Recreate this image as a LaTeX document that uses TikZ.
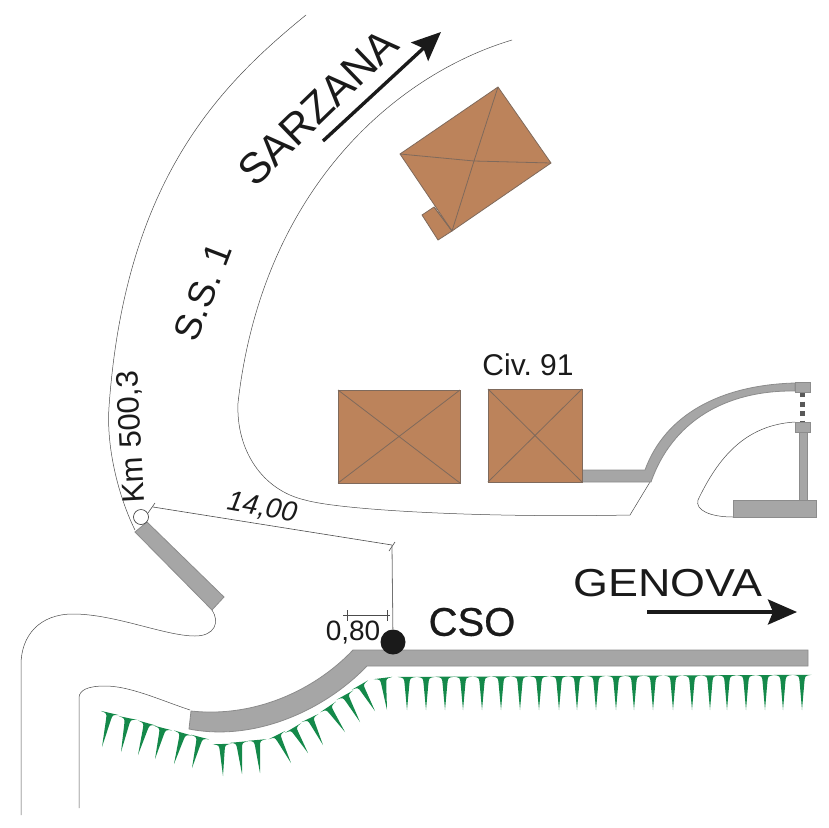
\documentclass[tikz,border=0pt]{standalone}
\usepackage{fontspec}
\setmainfont{Liberation Sans}
\newfontfamily\heavyfont[FakeBold=0.6]{Liberation Sans}
\usetikzlibrary{arrows.meta,calc}
\definecolor{roof}{HTML}{BC835B}
\definecolor{roofedge}{HTML}{7F6A5C}
\definecolor{wall}{HTML}{A6A6A6}
\definecolor{walledge}{HTML}{8C8C8C}
\definecolor{hedge}{HTML}{14894A}
\definecolor{ink}{HTML}{1A1A1A}
\tikzset{
	road/.style={draw=black!70,line width=.5pt},
	wallpart/.style={fill=wall,draw=walledge,line width=.8pt},
	house/.style={fill=roof,draw=roofedge,line width=.8pt},
	ridge/.style={draw=roofedge,line width=.8pt},
	dim/.style={draw=black!70,line width=.6pt},
	txt/.style={text=ink,inner sep=0pt,font=\fontsize{#1}{#1}\selectfont},
	bigarrow/.style={draw=ink,line width=3.4pt,-{Stealth[length=29pt,width=25pt,inset=5pt]}}
}
\newcommand{\spike}[4]{%
	\coordinate (s_a) at (#1,#2);
	\coordinate (s_b) at (#3,#4);
	\coordinate (s_c) at ($(s_a)!1pt!(s_b)$);
	\coordinate (s_d) at ($(s_a)!7pt!(s_b)$);
	\fill[hedge] ($(s_a)!9.5pt!90:(s_b)$) -- ($(s_a)!9.5pt!-90:(s_b)$)
	.. controls ($(s_c)!3pt!-90:(s_b)$) .. ($(s_d)!2.4pt!-90:(s_b)$) -- (s_b)
	-- ($(s_d)!2.4pt!90:(s_b)$)
	.. controls ($(s_c)!3pt!90:(s_b)$) .. cycle;}
\begin{document}
\frenchspacing
\begin{tikzpicture}[x=1pt,y=-1pt]
	\useasboundingbox (0,0) rectangle (828,828);
	% roads
	\draw[road] (306,15) .. controls (220,85) and (125,180) .. (109,407) .. controls (106,450) and (120,500) .. (135,530);
	\draw[road] (512,40) .. controls (395,75) and (262,190) .. (238,403) .. controls (236,450) and (262,490) .. (305,500) .. controls (340,510) and (480,518) .. (630,515) -- (650,482);
	\draw[road] (212,610) .. controls (220,622) and (215,636) .. (195,636) .. controls (165,636) and (115,614) .. (73,614) .. controls (40,614) and (21,635) .. (21,665) -- (21,815);
	\draw[road] (190,710) .. controls (160,700) and (130,686) .. (105,686) .. controls (88,686) and (79,690) .. (79,698) -- (79,808);
	\draw[road] (795,422) .. controls (745,425) and (718,458) .. (698,500) .. controls (695,510) and (710,517) .. (733,517);
	% walls
	\draw[wallpart] (135,532) -- (147,522) -- (224,597) -- (212,610) -- cycle;
	\draw[wallpart] (191,711) .. controls (255,718) and (315,690) .. (353,650) -- (808,650) -- (808,666) -- (367,666) .. controls (325,710) and (255,742) .. (189,729) -- cycle;
	\draw[wallpart] (582,470) -- (645,470) .. controls (665,415) and (720,385) .. (795,383) -- (795,391) .. controls (725,390) and (672,422) .. (651,482) -- (582,482) -- cycle;
	\draw[draw=black!65,line width=5pt,dash pattern=on 5pt off 4.5pt] (802.5,392) -- (802.5,422);
	\draw[wallpart] (799,432) rectangle (807,500);
	\draw[wallpart] (733,500) rectangle (816,517);
	\draw[wallpart] (795,382) rectangle (810,392);
	\draw[wallpart] (795,422) rectangle (810,432);
	% houses
	\draw[house] (338,390) rectangle (460,483);
	\draw[ridge] (338,390) -- (460,483) (338,483) -- (460,390);
	\draw[house] (488,389) rectangle (582,482);
	\draw[ridge] (488,389) -- (582,482) (488,482) -- (582,389);
	\draw[house] (434,207) -- (422,215) -- (438,240) -- (452,231) -- cycle;
	\draw[house] (400,154) -- (498,87) -- (551,163) -- (452,231) -- cycle;
	\draw[ridge] (400,154) -- (474,161) -- (551,163) (498,87) -- (474,161) -- (452,231) (434,207) -- (452,231);
	% hedge
	\foreach \ax/\ay/\bx/\by in {110/713/102/747,128/718/121/752,147/723/138/755,163/728/155/759,183/733/174/764,200/737/192/768,222/744/223/776,239/742/242/774,257/740/260/773,277/735/291/763,293/728/308/753,310/718/323/745,328/707/345/732,345/695/360/722,360/685/375/711,383/678/387/710}
	{\spike{\ax}{\ay}{\bx}{\by}}
	\foreach \ax [count=\i] in {407,426,445,463,482,501,520,539,559,577,596,616,634,653,673,692,710,727,746,765,783,802}
	{\spike{\ax}{677-\i*0.1}{\ax}{710}}
	% dimensions
	\node[circle,draw=black!80,fill=white,line width=.6pt,minimum size=15pt,inner sep=0pt] (km) at (141,517) {};
	\node[circle,fill=ink,minimum size=25pt,inner sep=0pt] (cso) at (393,642) {};
	\coordinate (dim_a) at (153,507);
	\coordinate (dim_b) at (392,545);
	\draw[dim] (dim_a) -- (dim_b);
	\draw[dim] (155,503) -- (148,513) (395,542) -- (389,551);
	\draw[draw=black!55,line width=.8pt] (dim_b) -- (cso);
	\draw[dim] (343,615) -- (390,615) (347,610) -- (347,621) (387,610) -- (387,621);
	% labels
	\node[txt=31,rotate=93] (km_txt) at (132,437) {Km 500,3};
	\node[txt=28,rotate=-10] (width_txt) at (262,508) {\itshape 14,00};
	\node[txt=28] (offset_txt) at (353,633) {0,80};
	\node[txt=40] (cso_txt) at (472,622) {\heavyfont CSO};
	\node[txt=30] (civ_txt) at (528,365) {Civ. 91};
	\node[txt=37,rotate=69] (ss_txt) at (203,292) {S.S. 1};
	\node[txt=43,rotate=44] (sarzana_txt) at (318,107) {SARZANA};
	\node[txt=39] (genova_txt) at (668,583) {\scalebox{1.15}[1]{GENOVA}};
	\coordinate (sar_a) at (323,141);
	\coordinate (sar_b) at (441,32);
	\coordinate (gen_a) at (647,612);
	\coordinate (gen_b) at (797,612);
	\draw[bigarrow] (sar_a) -- (sar_b);
	\draw[bigarrow] (gen_a) -- (gen_b);
\end{tikzpicture}
\end{document}
